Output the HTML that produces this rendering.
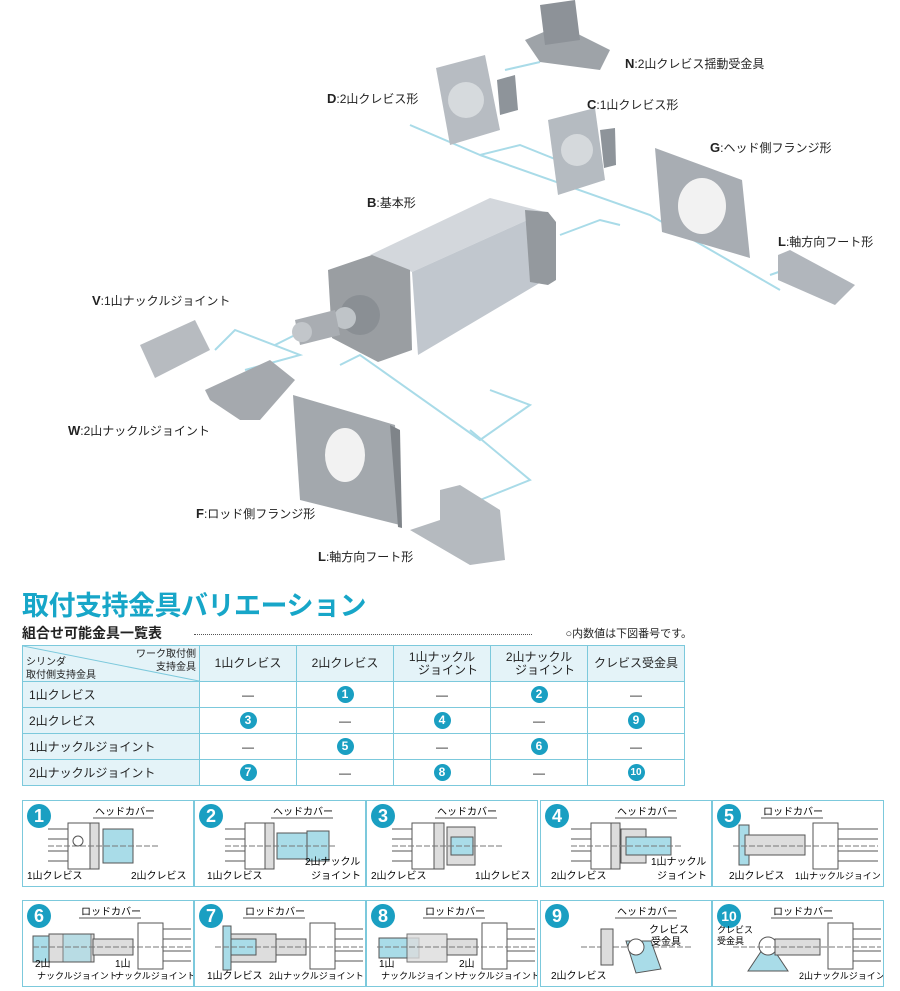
<!DOCTYPE html>
<html><head><meta charset="utf-8"><style>
body{margin:0;width:900px;height:991px;background:#fff;position:relative;overflow:hidden;font-family:"Liberation Sans","Noto Sans CJK JP",sans-serif;color:#222}
.lb{position:absolute;font-size:12px;white-space:nowrap}
.lb b{font-size:13px}
h1{position:absolute;left:22px;top:584px;margin:0;font-size:27px;color:#17a6c8;font-weight:bold;letter-spacing:-0.5px}
.sub{position:absolute;left:22px;top:623px;font-size:14px;font-weight:bold;width:670px}
.sub span{position:absolute;left:0}
.dots{position:absolute;left:172px;right:160px;top:11px;border-top:1px dotted #555}
.note{position:absolute;right:0;top:2px;font-size:11px;font-weight:normal}
table{position:absolute;left:22px;top:645px;border-collapse:collapse;font-size:12px}
td{border:1px solid #7cc9dc;text-align:center;height:25px;padding:0}
td.h{background:#e4f3f8;text-align:left;padding-left:6px}
tr.hd td{background:#e4f3f8;height:35px;line-height:13px}
.n{display:inline-block;width:17px;height:17px;border-radius:50%;background:#1a9fc2;color:#fff;font-weight:bold;font-size:12px;line-height:17px}
.p{position:absolute;width:170px;height:85px;border:1px solid #7cc9dc}
.c{position:absolute;left:4px;top:3px;width:24px;height:24px;border-radius:50%;background:#1a9fc2;color:#fff;font-weight:bold;font-size:18px;text-align:center;line-height:24px}
.p svg{position:absolute;left:0;top:0}
</style></head><body>
<svg width="900" height="580" style="position:absolute;left:0;top:0">
<g fill="none" stroke="#a9dbe8" stroke-width="2">
<polyline points="410,125 480,155 520,145 570,165 600,170"/>
<polyline points="505,70 540,62"/>
<polyline points="480,155 650,215 780,290"/>
<polyline points="560,235 600,220 620,225"/>
<polyline points="215,350 235,330 300,355 245,370"/>
<polyline points="275,345 295,335"/>
<polyline points="340,365 360,355 480,440 530,405 490,390"/>
<polyline points="470,430 530,480 480,500"/>
<polyline points="770,275 790,268"/>
</g>
<!-- N -->
<polygon points="525,40 560,25 610,50 600,70 540,62" fill="#9ea3a8"/>
<polygon points="540,5 575,0 580,40 545,45" fill="#8d9298"/>
<!-- D -->
<polygon points="436,68 485,55 500,130 450,145" fill="#b7bcc2"/>
<circle cx="466" cy="100" r="18" fill="#d6dadd"/>
<polygon points="497,80 515,75 518,110 500,115" fill="#8e949a"/>
<!-- C -->
<polygon points="548,120 595,108 605,180 558,195" fill="#b5bbc1"/>
<circle cx="577" cy="150" r="16" fill="#d5d9dc"/>
<polygon points="600,130 615,128 616,165 604,168" fill="#8e949a"/>
<!-- G -->
<polygon points="655,148 742,180 750,258 662,232" fill="#a8adb3"/>
<ellipse cx="702" cy="206" rx="24" ry="28" fill="#f2f2f2"/>
<!-- L right -->
<polygon points="778,255 790,250 855,285 835,305 778,280" fill="#b1b6bc"/>
<!-- cylinder -->
<polygon points="370,255 490,198 545,212 412,272" fill="#d3d7dc"/>
<polygon points="412,272 545,212 548,278 418,355" fill="#c1c7ce"/>
<polygon points="525,210 548,212 556,222 556,280 548,285 530,282" fill="#94999e"/>
<polygon points="328,270 372,255 410,270 412,350 378,362 332,338" fill="#9a9ea2"/>
<circle cx="360" cy="315" r="20" fill="#8a8f94"/>
<circle cx="345" cy="318" r="11" fill="#bfc4c8"/>
<polygon points="295,320 335,310 340,335 300,345" fill="#a9adb2"/>
<circle cx="302" cy="332" r="10" fill="#c2c6ca"/>
<!-- V -->
<polygon points="140,345 195,320 210,350 155,378" fill="#b7bbc0"/>
<!-- W -->
<polygon points="205,390 270,360 295,380 260,420 240,420 210,400" fill="#a5a9ae"/>
<!-- F -->
<polygon points="293,395 395,425 400,525 300,500" fill="#a3a8ad"/>
<polygon points="390,425 400,430 402,528 398,527" fill="#7f8489"/>
<ellipse cx="345" cy="455" rx="20" ry="27" fill="#f2f2f2"/>
<!-- L bottom -->
<polygon points="440,490 460,485 500,510 505,560 470,565 410,530 440,520" fill="#b5babf"/>
</svg>
<div class="lb" style="left:625px;top:55px"><b>N</b>:2山クレビス揺動受金具</div>
<div class="lb" style="left:327px;top:90px"><b>D</b>:2山クレビス形</div>
<div class="lb" style="left:587px;top:96px"><b>C</b>:1山クレビス形</div>
<div class="lb" style="left:710px;top:139px"><b>G</b>:ヘッド側フランジ形</div>
<div class="lb" style="left:367px;top:194px"><b>B</b>:基本形</div>
<div class="lb" style="left:778px;top:233px"><b>L</b>:軸方向フート形</div>
<div class="lb" style="left:92px;top:292px"><b>V</b>:1山ナックルジョイント</div>
<div class="lb" style="left:68px;top:422px"><b>W</b>:2山ナックルジョイント</div>
<div class="lb" style="left:196px;top:505px"><b>F</b>:ロッド側フランジ形</div>
<div class="lb" style="left:318px;top:548px"><b>L</b>:軸方向フート形</div>

<h1>取付支持金具バリエーション</h1>
<div class="sub"><span>組合せ可能金具一覧表</span><div class="dots"></div><div class="note">○内数値は下図番号です。</div></div>
<table>
<tr class="hd"><td style="width:176px;position:relative;background:#e4f3f8;font-size:10px"><svg width="176" height="35" style="position:absolute;left:0;top:0"><line x1="0" y1="0" x2="176" y2="35" stroke="#7cc9dc"/></svg><div style="position:absolute;right:3px;top:2px;text-align:right">ワーク取付側<br>支持金具</div><div style="position:absolute;left:3px;top:10px;text-align:left">シリンダ<br>取付側支持金具</div></td>
<td style="width:96px">1山クレビス</td><td style="width:96px">2山クレビス</td><td style="width:96px">1山ナックル<br>　ジョイント</td><td style="width:96px">2山ナックル<br>　ジョイント</td><td style="width:96px">クレビス受金具</td></tr>
<tr><td class="h">1山クレビス</td><td>—</td><td><span class="n">1</span></td><td>—</td><td><span class="n">2</span></td><td>—</td></tr>
<tr><td class="h">2山クレビス</td><td><span class="n">3</span></td><td>—</td><td><span class="n">4</span></td><td>—</td><td><span class="n">9</span></td></tr>
<tr><td class="h">1山ナックルジョイント</td><td>—</td><td><span class="n">5</span></td><td>—</td><td><span class="n">6</span></td><td>—</td></tr>
<tr><td class="h">2山ナックルジョイント</td><td><span class="n">7</span></td><td>—</td><td><span class="n">8</span></td><td>—</td><td><span class="n" style="font-size:10px">10</span></td></tr>
</table>

<!-- row 1 -->
<div class="p" style="left:22px;top:800px"><div class="c">1</div><svg width="170" height="85" font-size="10"><text x="72" y="14">ヘッドカバー</text><line x1="70" y1="17" x2="130" y2="17" stroke="#555"/><g stroke="#555"><line x1="25" y1="28" x2="45" y2="28"/><line x1="25" y1="38" x2="45" y2="38"/><line x1="25" y1="50" x2="45" y2="50"/><line x1="25" y1="60" x2="45" y2="60"/><rect x="45" y="22" width="22" height="46" fill="#fff"/></g><rect x="67" y="22" width="9" height="46" fill="#ddd" stroke="#555"/><rect x="80" y="28" width="30" height="34" fill="#a9dce8" stroke="#555"/><line x1="25" y1="45" x2="135" y2="45" stroke="#777" stroke-dasharray="6,2"/><circle cx="55" cy="40" r="5" fill="none" stroke="#555"/><text x="4" y="78">1山クレビス</text><text x="108" y="78">2山クレビス</text></svg></div>
<div class="p" style="left:194px;top:800px"><div class="c">2</div><svg width="170" height="85" font-size="10"><text x="78" y="14">ヘッドカバー</text><line x1="76" y1="17" x2="138" y2="17" stroke="#555"/><g stroke="#555"><line x1="30" y1="28" x2="50" y2="28"/><line x1="30" y1="38" x2="50" y2="38"/><line x1="30" y1="50" x2="50" y2="50"/><line x1="30" y1="60" x2="50" y2="60"/><rect x="50" y="22" width="20" height="46" fill="#fff"/></g><rect x="70" y="22" width="9" height="46" fill="#ddd" stroke="#555"/><rect x="82" y="32" width="30" height="26" fill="#a9dce8" stroke="#555"/><rect x="112" y="30" width="22" height="30" fill="#a9dce8" stroke="#555"/><line x1="30" y1="45" x2="140" y2="45" stroke="#777" stroke-dasharray="6,2"/><text x="12" y="78">1山クレビス</text><text x="110" y="64">2山ナックル</text><text x="116" y="78">ジョイント</text></svg></div>
<div class="p" style="left:366px;top:800px"><div class="c">3</div><svg width="170" height="85" font-size="10"><text x="70" y="14">ヘッドカバー</text><line x1="68" y1="17" x2="130" y2="17" stroke="#555"/><g stroke="#555"><line x1="25" y1="28" x2="45" y2="28"/><line x1="25" y1="38" x2="45" y2="38"/><line x1="25" y1="50" x2="45" y2="50"/><line x1="25" y1="60" x2="45" y2="60"/><rect x="45" y="22" width="22" height="46" fill="#fff"/></g><rect x="67" y="22" width="10" height="46" fill="#ddd" stroke="#555"/><rect x="80" y="26" width="28" height="38" fill="#ddd" stroke="#555"/><rect x="84" y="36" width="22" height="18" fill="#a9dce8" stroke="#555"/><line x1="25" y1="45" x2="135" y2="45" stroke="#777" stroke-dasharray="6,2"/><text x="4" y="78">2山クレビス</text><text x="108" y="78">1山クレビス</text></svg></div>
<div class="p" style="left:540px;top:800px"><div class="c">4</div><svg width="170" height="85" font-size="10"><text x="76" y="14">ヘッドカバー</text><line x1="74" y1="17" x2="136" y2="17" stroke="#555"/><g stroke="#555"><line x1="30" y1="28" x2="50" y2="28"/><line x1="30" y1="38" x2="50" y2="38"/><line x1="30" y1="50" x2="50" y2="50"/><line x1="30" y1="60" x2="50" y2="60"/><rect x="50" y="22" width="20" height="46" fill="#fff"/></g><rect x="70" y="22" width="9" height="46" fill="#ddd" stroke="#555"/><rect x="80" y="28" width="25" height="34" fill="#ddd" stroke="#555"/><rect x="85" y="36" width="45" height="18" fill="#a9dce8" stroke="#555"/><line x1="30" y1="45" x2="140" y2="45" stroke="#777" stroke-dasharray="6,2"/><text x="10" y="78">2山クレビス</text><text x="110" y="64">1山ナックル</text><text x="116" y="78">ジョイント</text></svg></div>
<div class="p" style="left:712px;top:800px"><div class="c">5</div><svg width="170" height="85" font-size="10"><text x="50" y="14">ロッドカバー</text><line x1="48" y1="17" x2="110" y2="17" stroke="#555"/><rect x="26" y="24" width="10" height="40" fill="#a9dce8" stroke="#555"/><rect x="32" y="34" width="60" height="20" fill="#ddd" stroke="#555"/><rect x="100" y="22" width="25" height="46" fill="#fff" stroke="#555"/><g stroke="#555"><line x1="125" y1="28" x2="165" y2="28"/><line x1="125" y1="38" x2="165" y2="38"/><line x1="125" y1="50" x2="165" y2="50"/><line x1="125" y1="60" x2="165" y2="60"/></g><line x1="20" y1="45" x2="165" y2="45" stroke="#777" stroke-dasharray="6,2"/><text x="16" y="78">2山クレビス</text><text x="82" y="78" font-size="9">1山ナックルジョイント</text></svg></div>
<!-- row 2 -->
<div class="p" style="left:22px;top:900px"><div class="c">6</div><svg width="170" height="85" font-size="10"><text x="58" y="14">ロッドカバー</text><line x1="56" y1="17" x2="118" y2="17" stroke="#555"/><rect x="10" y="35" width="16" height="26" fill="#a9dce8" stroke="#555"/><rect x="26" y="33" width="45" height="28" fill="#ddd" stroke="#555"/><rect x="40" y="33" width="28" height="28" fill="#a9dce8" stroke="#555" opacity=".7"/><rect x="70" y="38" width="40" height="16" fill="#ddd" stroke="#555"/><rect x="115" y="22" width="25" height="46" fill="#fff" stroke="#555"/><g stroke="#555"><line x1="140" y1="28" x2="168" y2="28"/><line x1="140" y1="38" x2="168" y2="38"/><line x1="140" y1="50" x2="168" y2="50"/><line x1="140" y1="60" x2="168" y2="60"/></g><line x1="10" y1="46" x2="168" y2="46" stroke="#777" stroke-dasharray="6,2"/><text x="12" y="66">2山</text><text x="14" y="78" font-size="9">ナックルジョイント</text><text x="92" y="66">1山</text><text x="92" y="78" font-size="9">ナックルジョイント</text></svg></div>
<div class="p" style="left:194px;top:900px"><div class="c">7</div><svg width="170" height="85" font-size="10"><text x="50" y="14">ロッドカバー</text><line x1="48" y1="17" x2="110" y2="17" stroke="#555"/><rect x="28" y="25" width="8" height="44" fill="#a9dce8" stroke="#555"/><rect x="36" y="33" width="45" height="28" fill="#ddd" stroke="#555"/><rect x="36" y="38" width="25" height="16" fill="#a9dce8" stroke="#555"/><rect x="81" y="38" width="30" height="16" fill="#ddd" stroke="#555"/><rect x="115" y="22" width="25" height="46" fill="#fff" stroke="#555"/><g stroke="#555"><line x1="140" y1="28" x2="168" y2="28"/><line x1="140" y1="38" x2="168" y2="38"/><line x1="140" y1="50" x2="168" y2="50"/><line x1="140" y1="60" x2="168" y2="60"/></g><line x1="20" y1="46" x2="168" y2="46" stroke="#777" stroke-dasharray="6,2"/><text x="12" y="78">1山クレビス</text><text x="74" y="78" font-size="9">2山ナックルジョイント</text></svg></div>
<div class="p" style="left:366px;top:900px"><div class="c">8</div><svg width="170" height="85" font-size="10"><text x="58" y="14">ロッドカバー</text><line x1="56" y1="17" x2="118" y2="17" stroke="#555"/><rect x="12" y="37" width="40" height="20" fill="#a9dce8" stroke="#555"/><rect x="40" y="33" width="40" height="28" fill="#ddd" stroke="#555" opacity=".8"/><rect x="80" y="38" width="30" height="16" fill="#ddd" stroke="#555"/><rect x="115" y="22" width="25" height="46" fill="#fff" stroke="#555"/><g stroke="#555"><line x1="140" y1="28" x2="168" y2="28"/><line x1="140" y1="38" x2="168" y2="38"/><line x1="140" y1="50" x2="168" y2="50"/><line x1="140" y1="60" x2="168" y2="60"/></g><line x1="10" y1="46" x2="168" y2="46" stroke="#777" stroke-dasharray="6,2"/><text x="12" y="66">1山</text><text x="14" y="78" font-size="9">ナックルジョイント</text><text x="92" y="66">2山</text><text x="92" y="78" font-size="9">ナックルジョイント</text></svg></div>
<div class="p" style="left:540px;top:900px"><div class="c">9</div><svg width="170" height="85" font-size="10"><text x="76" y="14">ヘッドカバー</text><line x1="74" y1="17" x2="136" y2="17" stroke="#555"/><line x1="40" y1="46" x2="150" y2="46" stroke="#777" stroke-dasharray="6,2"/><rect x="60" y="28" width="12" height="36" fill="#ddd" stroke="#555"/><polygon points="85,40 110,40 120,68 95,72" fill="#a9dce8" stroke="#555"/><circle cx="95" cy="46" r="8" fill="#fff" stroke="#555"/><text x="108" y="32">クレビス</text><text x="110" y="44">受金具</text><text x="10" y="78">2山クレビス</text></svg></div>
<div class="p" style="left:712px;top:900px"><div class="c" style="font-size:14px">10</div><svg width="170" height="85" font-size="10"><text x="60" y="14">ロッドカバー</text><line x1="58" y1="17" x2="120" y2="17" stroke="#555"/><polygon points="35,70 55,40 75,70" fill="#a9dce8" stroke="#555"/><circle cx="55" cy="45" r="9" fill="#fff" stroke="#555"/><rect x="62" y="38" width="45" height="16" fill="#ddd" stroke="#555"/><rect x="115" y="22" width="25" height="46" fill="#fff" stroke="#555"/><g stroke="#555"><line x1="140" y1="28" x2="168" y2="28"/><line x1="140" y1="38" x2="168" y2="38"/><line x1="140" y1="50" x2="168" y2="50"/><line x1="140" y1="60" x2="168" y2="60"/></g><line x1="20" y1="46" x2="168" y2="46" stroke="#777" stroke-dasharray="6,2"/><text x="4" y="32" font-size="9">クレビス</text><text x="4" y="43" font-size="9">受金具</text><text x="86" y="78" font-size="9">2山ナックルジョイント</text></svg></div>
</body></html>
